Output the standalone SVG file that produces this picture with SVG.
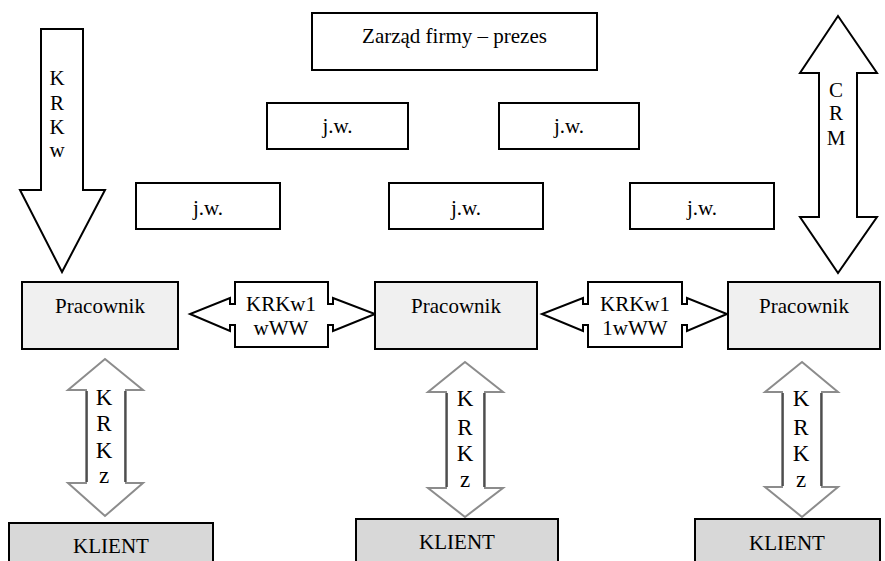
<svg xmlns="http://www.w3.org/2000/svg" width="885" height="561" viewBox="0 0 885 561">
<style>
.box{fill:#fff;stroke:#000;stroke-width:2}
.prac{fill:#f0f0f0;stroke:#000;stroke-width:2}
.kl{fill:#d8d8d8;stroke:#000;stroke-width:2}
.arr{fill:#fff;stroke:#000;stroke-width:2;stroke-linejoin:miter}
.garr{fill:#fff;stroke:#8c8c8c;stroke-width:2;stroke-linejoin:miter}
.gedge{stroke:#3a3a3a;stroke-width:1.5;fill:none}
.t{font-family:"Liberation Serif",serif;font-size:21px;text-anchor:middle;fill:#000}
.m{font-family:"Liberation Serif",serif;font-size:23px;text-anchor:middle;fill:#000}
</style>
<rect width="885" height="561" fill="#fff"/>

<g id="connectors">
  <g id="krkw-arrow">
    <path class="arr" d="M41,29 H83 V190 H105 L62,272 L20,190 H41 Z"/>
    <text class="t" x="57" y="85">K</text>
    <text class="t" x="57" y="110">R</text>
    <text class="t" x="57" y="134">K</text>
    <text class="t" x="57" y="157">w</text>
  </g>
  <g id="crm-arrow">
    <path class="arr" d="M838,16 L877,73 H857 V217 H877 L838,273 L800,217 H819 V73 H800 Z"/>
    <text class="t" x="836" y="97">C</text>
    <text class="t" x="836" y="120">R</text>
    <text class="t" x="836" y="145">M</text>
  </g>
  <g id="callout-1">
    <path class="arr" d="M235,282 H328 V304 H333 V298 L375,314 L333,331 V325 H328 V347 H235 V325 H230 V331 L190,314 L230,298 V304 H235 Z"/>
    <text class="t" x="281" y="311">KRKw1</text>
    <text class="t" x="281" y="335">wWW</text>
  </g>
  <g id="callout-2">
    <path class="arr" d="M588,282 H682 V304 H687 V298 L727,314 L687,331 V325 H682 V347 H588 V325 H583 V331 L542,314 L583,298 V304 H588 Z"/>
    <text class="t" x="635" y="311">KRKw1</text>
    <text class="t" x="635" y="335">1wWW</text>
  </g>
  <g id="krkz-1">
    <path class="garr" d="M105,359 L143,390 H126 V483 H143 L105,516 L68,483 H86 V390 H68 Z"/>
    <path class="gedge" d="M87,391 V482 M125,391 V482"/>
    <text class="m" x="104" y="405">K</text>
    <text class="m" x="104" y="431">R</text>
    <text class="m" x="104" y="458">K</text>
    <text class="m" x="104" y="483">z</text>
  </g>
  <g id="krkz-2">
    <path class="garr" d="M465,362 L503,392 H485 V488 H503 L465,517 L428,488 H446 V392 H428 Z"/>
    <path class="gedge" d="M447,393 V487 M484,393 V487"/>
    <text class="m" x="465" y="406">K</text>
    <text class="m" x="465" y="435">R</text>
    <text class="m" x="465" y="461">K</text>
    <text class="m" x="465" y="487">z</text>
  </g>
  <g id="krkz-3">
    <path class="garr" d="M802,362 L838,392 H822 V487 H838 L802,517 L765,487 H782 V392 H765 Z"/>
    <path class="gedge" d="M783,393 V486 M821,393 V486"/>
    <text class="m" x="801" y="406">K</text>
    <text class="m" x="801" y="435">R</text>
    <text class="m" x="801" y="461">K</text>
    <text class="m" x="801" y="487">z</text>
  </g>
</g>

<g id="zarzad"><rect class="box" x="312" y="13" width="285" height="57"/><text class="t" x="454.5" y="43">Zarząd firmy – prezes</text></g>
<g id="jw-2a"><rect class="box" x="267" y="103" width="141" height="46"/><text class="t" x="337.5" y="133">j.w.</text></g>
<g id="jw-2b"><rect class="box" x="499" y="103" width="140" height="46"/><text class="t" x="569" y="133">j.w.</text></g>
<g id="jw-3a"><rect class="box" x="136" y="183" width="144" height="46"/><text class="t" x="208" y="215">j.w.</text></g>
<g id="jw-3b"><rect class="box" x="389" y="183" width="154" height="46"/><text class="t" x="466" y="215">j.w.</text></g>
<g id="jw-3c"><rect class="box" x="630" y="183" width="144" height="46"/><text class="t" x="702" y="215">j.w.</text></g>

<g id="pracownik-1"><rect class="prac" x="22" y="282" width="156" height="67"/><text class="t" x="100" y="313">Pracownik</text></g>
<g id="pracownik-2"><rect class="prac" x="375" y="282" width="162" height="67"/><text class="t" x="456" y="313">Pracownik</text></g>
<g id="pracownik-3"><rect class="prac" x="728" y="282" width="152" height="67"/><text class="t" x="804" y="313">Pracownik</text></g>

<g id="klient-1"><rect class="kl" x="9" y="523" width="204" height="45"/><text class="t" x="111" y="553">KLIENT</text></g>
<g id="klient-2"><rect class="kl" x="356" y="519" width="202" height="49"/><text class="t" x="457" y="549">KLIENT</text></g>
<g id="klient-3"><rect class="kl" x="695" y="519" width="185" height="49"/><text class="t" x="787" y="550">KLIENT</text></g>
</svg>
